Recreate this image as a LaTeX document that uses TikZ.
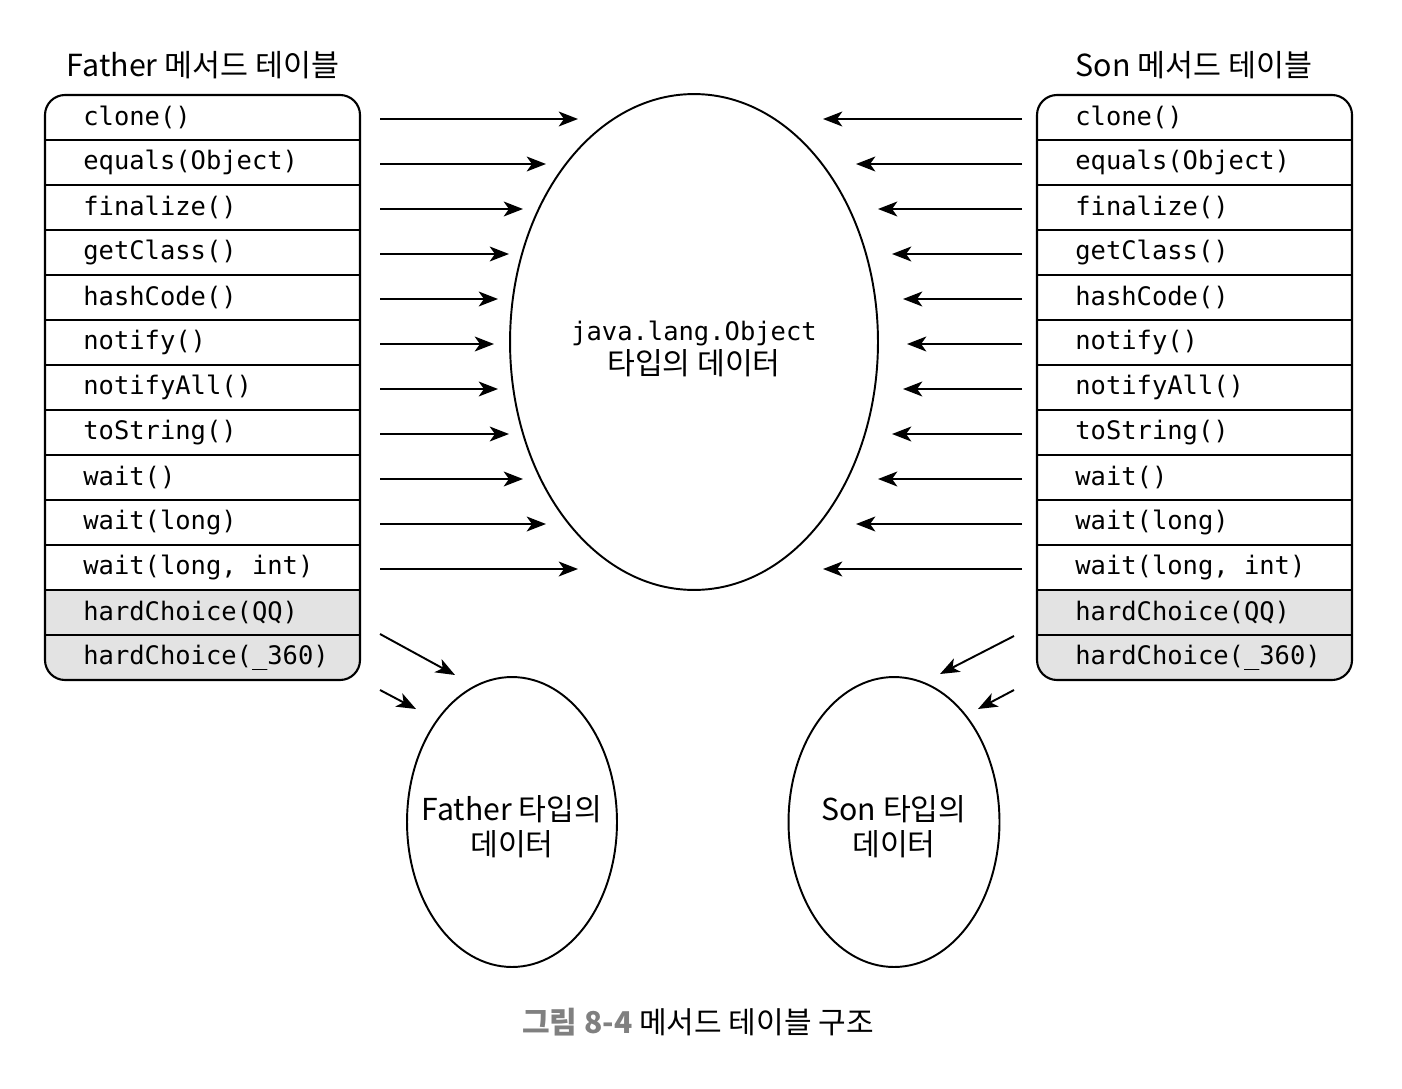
\documentclass[tikz,border=0pt]{standalone}
\usepackage{fontspec}
\setmainfont{Noto Sans CJK KR}
\setmonofont{DejaVu Sans Mono}
\newfontfamily\krfont{Noto Sans CJK KR}
\usetikzlibrary{arrows.meta,shapes.geometric}
\definecolor{rowgray}{HTML}{E3E3E3}
\definecolor{capgray}{HTML}{808080}
\tikzset{
  arr/.style={line width=1.1pt,-{Stealth[length=11pt,width=8.5pt,inset=3pt]}},
  frame/.style={line width=1.2pt},
  rowtext/.style={anchor=west,inner sep=0pt,font=\ttfamily\fontsize{14.5}{16}\selectfont},
  head/.style={inner sep=0pt,font=\krfont\fontsize{17.3}{20}\selectfont},
  blob/.style={draw,line width=1.1pt,ellipse,inner sep=0pt},
  lbl/.style={align=center,inner sep=0pt,font=\krfont\fontsize{17.2}{20}\selectfont},
}
\begin{document}
\begin{tikzpicture}[x=0.02cm,y=-0.02cm]
\useasboundingbox (0,0) rectangle (1402,1088);
% tables
\foreach \tx/\nm in {45/F,1037/S}{
  \begin{scope}
    \clip[rounded corners=0.4cm] (\tx,95) rectangle ++(315,585);
    \fill[rowgray] (\tx,590) rectangle ++(315,90);
  \end{scope}
  \draw[frame,rounded corners=0.4cm] (\tx,95) rectangle ++(315,585);
  \foreach \k in {1,...,12}{
    \draw[frame] (\tx,95+45*\k) -- ++(315,0);
  }
}
% row texts
\foreach \i/\t in {1/clone(),2/equals(Object),3/finalize(),4/getClass(),5/hashCode(),6/notify(),7/notifyAll(),8/toString(),9/wait(),10/wait(long),11/{wait(long, int)},12/hardChoice(QQ),13/hardChoice(\_360)}{
  \node[rowtext] (F\i) at (83,{117.5+45*(\i-1)}) {\t};
  \node[rowtext] (S\i) at (1075,{117.5+45*(\i-1)}) {\t};
}
% headers
\node[head] (fh) at (203,65) {Father 메서드 테이블};
\node[head] (sh) at (1194,65) {Son 메서드 테이블};
% ellipses
\node[blob,minimum width=7.36cm,minimum height=9.92cm] (obj) at (694,342) {};
\node[lbl] (objt) at (694,349) {{\ttfamily\fontsize{14.5}{16}\selectfont java.lang.Object}\\[-1pt]타입의 데이터};
\node[blob,minimum width=4.2cm,minimum height=5.8cm] (fd) at (512,822) {};
\node[lbl] (fdt) at (512,827) {Father 타입의\\데이터};
\node[blob,minimum width=4.22cm,minimum height=5.8cm] (sd) at (894,822) {};
\node[lbl] (sdt) at (894,827) {Son 타입의\\데이터};
% arrows
\foreach \i/\el/\er in {1/578/823,2/546/856,3/523/878,4/509/892,5/498/903,6/494/907,7/498/903,8/509/892,9/523/878,10/546/856,11/578/823}{
  \coordinate (la\i) at (380,{119+45*(\i-1)});
  \coordinate (lb\i) at (\el,{119+45*(\i-1)});
  \coordinate (ra\i) at (1022,{119+45*(\i-1)});
  \coordinate (rb\i) at (\er,{119+45*(\i-1)});
  \draw[arr] (la\i) -- (lb\i);
  \draw[arr] (ra\i) -- (rb\i);
}
\coordinate (fa1) at (380,634); \coordinate (fb1) at (455,675);
\coordinate (fa2) at (380,690); \coordinate (fb2) at (416,709);
\coordinate (sa1) at (1014,636); \coordinate (sb1) at (940,674);
\coordinate (sa2) at (1014,690); \coordinate (sb2) at (978,709);
\draw[arr] (fa1) -- (fb1);
\draw[arr] (fa2) -- (fb2);
\draw[arr] (sa1) -- (sb1);
\draw[arr] (sa2) -- (sb2);
% caption
\node[inner sep=0pt,font=\krfont\fontsize{17.1}{20}\selectfont] (cap) at (698,1022) {\textcolor{capgray}{\bfseries 그림 8-4} 메서드 테이블 구조};
\end{tikzpicture}
\end{document}
